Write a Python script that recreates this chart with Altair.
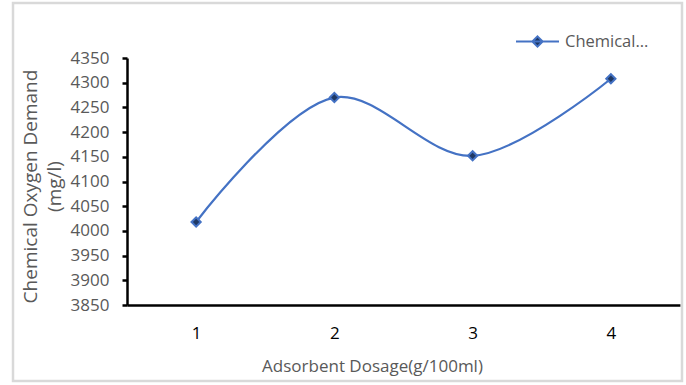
import altair as alt
import pandas as pd

dosage = ["1", "2", "3", "4"]
cod = [4018, 4270, 4152, 4308]
series = "Chemical Oxygen Demand"
y_ticks = [3850, 3900, 3950, 4000, 4050, 4100, 4150, 4200, 4250, 4300, 4350]

df = pd.DataFrame({"dosage": dosage, "cod": cod, "series": [series] * len(dosage)})

FONT = "Open Sans"
BLUE = "#4472C4"
NAVY = "#1F3864"
GRAY = "#595959"

x_enc = alt.X(
    "dosage:N",
    sort=dosage,
    scale=alt.Scale(paddingInner=0, paddingOuter=0),
    axis=alt.Axis(
        title="Adsorbent Dosage(g/100ml)",
        labelAngle=0,
        ticks=False,
        domainColor="black",
        domainWidth=2.5,
        labelColor="black",
        labelFontSize=17,
        labelFont=FONT,
        labelPadding=20,
        titleFont=FONT,
        titleFontSize=17,
        titleFontWeight="normal",
        titleColor=GRAY,
        titleX=245,
        titleY=61,
        titleBaseline="middle",
    ),
)
y_enc = alt.Y(
    "cod:Q",
    scale=alt.Scale(domain=[3850, 4350], nice=False, zero=False),
    axis=alt.Axis(
        title=["Chemical  Oxygen  Demand", "(mg/l)"],
        values=y_ticks,
        format="d",
        labelOverlap=False,
        grid=False,
        domainColor="black",
        domainWidth=2.5,
        tickColor="black",
        tickWidth=2.5,
        tickSize=5,
        labelColor=GRAY,
        labelFontSize=17,
        labelFont=FONT,
        labelPadding=13,
        titleFont=FONT,
        titleFontSize=19,
        titleFontWeight="normal",
        titleColor=GRAY,
        titleX=-97,
        titleY=128,
        titleAngle=-90,
        titleAlign="center",
        titleBaseline="middle",
        titleLineHeight=24,
    ),
)

border = alt.Chart(pd.DataFrame({"a": [0]})).mark_rect(
    fill=None, stroke="#D9D9D9", strokeWidth=2.5
).encode(
    x=alt.value(-114), x2=alt.value(555), y=alt.value(-55), y2=alt.value(323)
)

line = alt.Chart(df).mark_line(
    interpolate="catmull-rom", strokeWidth=2.25
).encode(
    x=x_enc,
    y=y_enc,
    color=alt.Color("series:N", scale=alt.Scale(range=[BLUE]), legend=None),
)

symbol_path = "M-1,0H1M0,-0.24L0.24,0L0,0.24L-0.24,0Z"

points = alt.Chart(df).mark_point(
    shape="diamond", filled=True, fill=NAVY, size=85, strokeWidth=2, opacity=1
).encode(
    x=x_enc,
    y=y_enc,
    stroke=alt.Stroke(
        "series:N",
        scale=alt.Scale(range=[BLUE]),
        legend=alt.Legend(
            title=None,
            orient="none",
            legendX=388,
            legendY=-39,
            symbolType=symbol_path,
            symbolSize=1849,
            symbolStrokeWidth=2,
            symbolStrokeColor=BLUE,
            symbolFillColor=NAVY,
            labelExpr="'Chemical...'",
            labelFont=FONT,
            labelFontSize=16.5,
            labelColor=GRAY,
            labelOffset=5,
            padding=0,
        ),
    ),
)

chart = alt.layer(border, line, points).properties(
    width=553,
    height=247,
    autosize=alt.AutoSizeParams(type="none"),
    padding={"left": 127, "top": 58, "right": 6, "bottom": 80},
    background="white",
).configure_view(stroke=None)

chart.save("out.html", embed_options={"renderer": "svg", "actions": False})
